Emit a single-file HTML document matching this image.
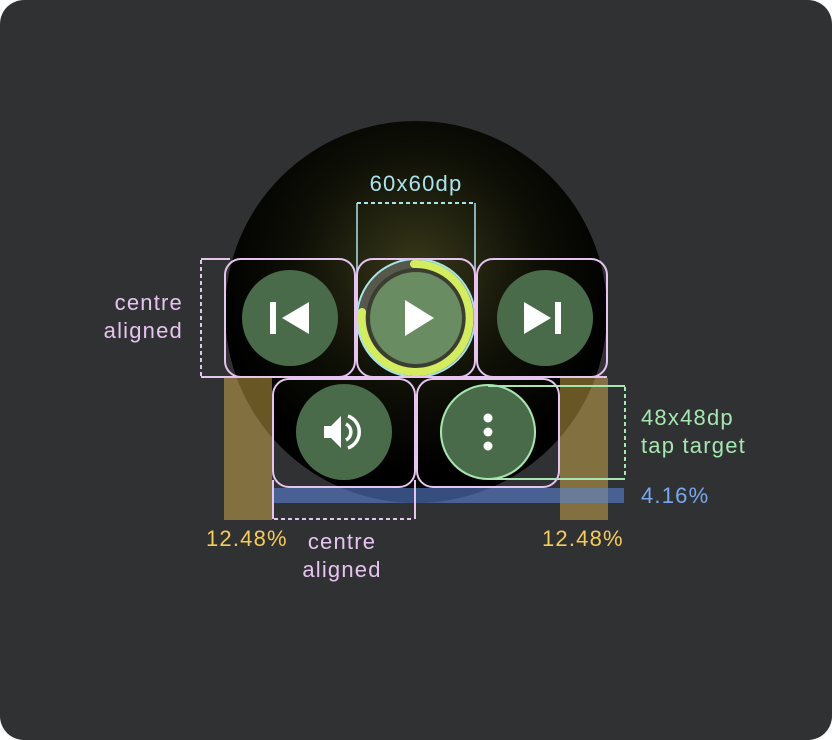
<!DOCTYPE html>
<html><head><meta charset="utf-8"><style>
html,body{margin:0;padding:0;background:#fff;}
svg{display:block}
text{font-family:"Liberation Sans",sans-serif;font-size:22px;letter-spacing:1.2px;}
</style></head><body>
<svg width="832" height="740" viewBox="0 0 832 740" xmlns="http://www.w3.org/2000/svg">
<defs>
<radialGradient id="bg" cx="416" cy="270" r="200" gradientUnits="userSpaceOnUse">
<stop offset="0" stop-color="#38381a"/><stop offset="0.6" stop-color="#0e0f06"/><stop offset="1" stop-color="#000"/>
</radialGradient>
</defs>
<rect x="0" y="0" width="832" height="740" rx="24" fill="#303133"/>
<circle cx="416" cy="312" r="191" fill="url(#bg)"/>
<rect x="224" y="378" width="48" height="142" fill="rgba(230,190,80,0.45)"/>
<rect x="560" y="378" width="48" height="142" fill="rgba(230,190,80,0.45)"/>
<rect x="272" y="488" width="352" height="15" fill="rgba(90,130,210,0.6)"/>
<circle cx="290" cy="318" r="48" fill="#4a6b4a"/>
<circle cx="545" cy="318" r="48" fill="#4a6b4a"/>
<circle cx="344" cy="432" r="48" fill="#4a6b4a"/>
<circle cx="488" cy="432" r="48" fill="#4a6b4a"/>
<circle cx="416" cy="318" r="58" fill="#3a3d30"/>
<circle cx="416" cy="318" r="54" fill="none" stroke="#55584a" stroke-width="8"/>
<path d="M 414 264 A 54 54 0 1 1 362 312" fill="none" stroke="#d4ec60" stroke-width="8" stroke-linecap="round"/>
<circle cx="416" cy="318" r="46" fill="#6a8c62"/>
<rect x="270" y="302" width="6" height="32" fill="#fff"/>
<polygon points="309,302 309,334 282,318" fill="#fff"/>
<rect x="555" y="302" width="6" height="32" fill="#fff"/>
<polygon points="524,302 524,334 551,318" fill="#fff"/>
<polygon points="405,300 405,336 434,318" fill="#fff"/>
<polygon points="324,426 331,426 341,416 341,448 331,438 324,438" fill="#fff"/>
<path d="M346 424 A 9 9 0 0 1 346 440" fill="none" stroke="#fff" stroke-width="3.5"/>
<path d="M348 416 A 17 17 0 0 1 348 448" fill="none" stroke="#fff" stroke-width="3.5"/>
<circle cx="488" cy="418" r="4.5" fill="#fff"/>
<circle cx="488" cy="432" r="4.5" fill="#fff"/>
<circle cx="488" cy="446" r="4.5" fill="#fff"/>
<circle cx="488" cy="432" r="47" fill="none" stroke="#a6e6b0" stroke-width="2"/>
<line x1="488" y1="386" x2="625" y2="386" stroke="#a6e6b0" stroke-width="2"/>
<line x1="488" y1="479" x2="625" y2="479" stroke="#a6e6b0" stroke-width="2"/>
<line x1="625" y1="387" x2="625" y2="478" stroke="#a6e6b0" stroke-width="2" stroke-dasharray="4 3"/>
<circle cx="416" cy="318" r="59" fill="none" stroke="#a8e4ec" stroke-width="2"/>
<line x1="357" y1="203" x2="475" y2="203" stroke="#a8e4ec" stroke-width="2" stroke-dasharray="4 3"/>
<line x1="357" y1="203" x2="357" y2="318" stroke="#a8e4ec" stroke-width="1.5"/>
<line x1="475" y1="203" x2="475" y2="318" stroke="#a8e4ec" stroke-width="1.5"/>
<g fill="none" stroke="#e6c4f0" stroke-width="2">
<rect x="225" y="259" width="130" height="118" rx="16"/>
<rect x="357" y="259" width="118" height="118" rx="16"/>
<rect x="477" y="259" width="130" height="118" rx="16"/>
<rect x="273" y="379" width="142" height="108" rx="16"/>
<rect x="417" y="379" width="142" height="108" rx="16"/>
<line x1="201" y1="259" x2="230" y2="259"/>
<line x1="201" y1="377" x2="607" y2="377"/>
<line x1="415" y1="480" x2="415" y2="519"/>
<line x1="273" y1="480" x2="273" y2="519"/>
</g>
<line x1="201" y1="260" x2="201" y2="376" stroke="#e6c4f0" stroke-width="2" stroke-dasharray="4 3"/>
<line x1="274" y1="519" x2="414" y2="519" stroke="#e6c4f0" stroke-width="2" stroke-dasharray="4 3"/>
<text x="416" y="191" fill="#a8e4ec" text-anchor="middle">60x60dp</text>
<text x="183" y="310" fill="#e6c4f0" text-anchor="end">centre</text>
<text x="183" y="338" fill="#e6c4f0" text-anchor="end">aligned</text>
<text x="342" y="549" fill="#e6c4f0" text-anchor="middle">centre</text>
<text x="342" y="577" fill="#e6c4f0" text-anchor="middle">aligned</text>
<text x="641" y="425" fill="#a6e6b0">48x48dp</text>
<text x="641" y="453" fill="#a6e6b0">tap target</text>
<text x="641" y="503" fill="#7aa8f0">4.16%</text>
<text x="206" y="546" fill="#f5cc5a">12.48%</text>
<text x="542" y="546" fill="#f5cc5a">12.48%</text>
</svg>
</body></html>
